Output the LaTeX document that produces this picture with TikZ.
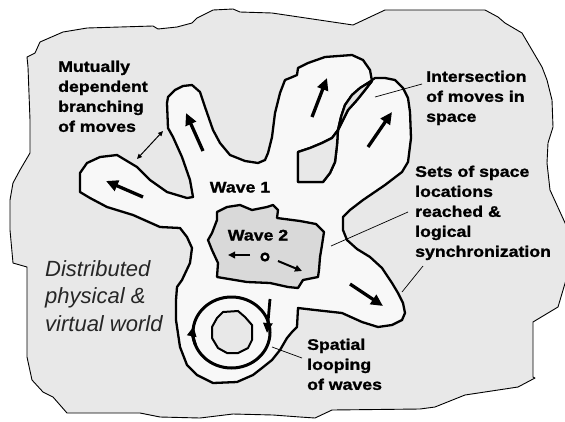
\documentclass[tikz,border=0pt]{standalone}
\usepackage{fontspec}
\usepackage{tikz}
\usetikzlibrary{arrows.meta}
\newfontfamily\lblfont[FakeStretch=1.15,FakeBold=1.2]{Liberation Sans}
\newfontfamily\worldfont{Liberation Sans}
\definecolor{ground}{HTML}{E8E8E8}
\definecolor{waveone}{HTML}{F8F8F8}
\definecolor{wavetwo}{HTML}{D9D9D9}
\definecolor{overlap}{HTML}{E2E2E2}

\begin{document}
\begin{tikzpicture}[
  x=1pt, y=-1pt,
  world/.style={draw, line width=0.9pt, fill=ground, line join=round},
  wave/.style={draw, line width=2.3pt, line join=round},
  mv/.style={-{Triangle[length=12pt,width=11pt]}, line width=3.3pt},
  smv/.style={-{Triangle[length=7pt,width=6.5pt]}, line width=2pt},
  dbl/.style={{Triangle[length=5pt,width=4.5pt]}-{Triangle[length=5pt,width=4.5pt]}, line width=1pt},
  lead/.style={line width=0.7pt},
  lbl/.style={font={\lblfont\bfseries\fontsize{15.4}{20}\selectfont},
              align=left, inner sep=0pt, anchor=north west},
  wlbl/.style={font={\lblfont\bfseries\fontsize{15.4}{20}\selectfont},
               inner sep=0pt, anchor=base},
]
  \useasboundingbox (0,0) rectangle (565,421);
  \fill[white] (0,0) rectangle (565,421);

  \path[world] (27,57) -- (35,53) -- (40,42) -- (63,32) -- (87,28) -- (153,26) -- (158,29)
    -- (177,27) -- (192,23) -- (197,18) -- (213,10) -- (233,9) -- (240,12) -- (272,13)
    -- (353,25) -- (385,10) -- (485,10) -- (498,17) -- (505,23) -- (522,33) -- (532,50)
    -- (542,67) -- (547,80) -- (552,100) -- (553,127) -- (548,143) -- (547,163) -- (550,190)
    -- (566,225) -- (572,250) -- (566,280) -- (558,307) -- (533,322) -- (533,377) -- (535,378)
    -- (518,387) -- (465,395) -- (435,407) -- (420,409) -- (332,410) -- (315,418) -- (300,417)
    -- (273,415) -- (233,414) -- (200,418) -- (160,417) -- (140,413) -- (100,413) -- (67,413)
    -- (53,397) -- (43,392) -- (32,380) -- (27,357) -- (27,267) -- (13,263) -- (10,230)
    -- (10,200) -- (13,183) -- (20,170) -- (30,153) -- (30,120) -- (28,67) -- cycle;

  \path[wave, fill=waveone] (193,197) -- (190,180) -- (182,157) -- (173,137) -- (168,128)
    -- (167,103) -- (168,97) -- (175,90) -- (183,86) -- (192,85) -- (200,92) -- (205,107)
    -- (213,130) -- (220,143) -- (230,155) -- (245,161) -- (258,163) -- (265,160) -- (268,153)
    -- (272,137) -- (275,113) -- (280,93) -- (285,80) -- (290,78) -- (297,75) -- (298,68)
    -- (308,63) -- (325,57) -- (352,55) -- (363,60) -- (370,70) -- (372,81) -- (365,90)
    -- (357,100) -- (348,110) -- (342,122) -- (338,130) -- (332,138) -- (322,143) -- (310,148)
    -- (298,152) -- (298,182) -- (323,182) -- (330,173) -- (335,162) -- (337,145) -- (338,130)
    -- (341,117) -- (345,105) -- (352,95) -- (360,88) -- (368,83) -- (375,78) -- (385,78)
    -- (395,80) -- (403,88) -- (408,98) -- (410,112) -- (411,138) -- (408,162) -- (402,172)
    -- (385,185) -- (363,200) -- (350,210) -- (343,217) -- (343,230) -- (347,240) -- (357,249)
    -- (370,257) -- (382,268) -- (392,283) -- (398,293) -- (403,303) -- (405,313) -- (402,320)
    -- (392,325) -- (378,327) -- (362,322) -- (342,313) -- (315,310) -- (298,308) -- (297,327)
    -- (292,332) -- (287,338) -- (280,350) -- (272,360) -- (262,368) -- (253,375) -- (237,382)
    -- (213,383) -- (197,375) -- (187,365) -- (180,347) -- (176,320) -- (176,300) -- (177,287)
    -- (182,280) -- (190,263) -- (192,248) -- (187,237) -- (180,228) -- (160,227) -- (133,215)
    -- (107,207) -- (90,198) -- (80,192) -- (80,173) -- (87,163) -- (100,157) -- (117,155)
    -- (137,167) -- (150,180) -- (167,192) -- (187,198) -- cycle;
  \path[wave, fill=overlap] (372,81) -- (365,90) -- (357,100) -- (348,110) -- (342,122)
    -- (338,130) -- (341,117) -- (345,105) -- (352,95) -- (360,88) -- (368,83) -- cycle;
  \path[wave, fill=ground] (338,130) -- (332,138) -- (322,143) -- (310,148) -- (298,152)
    -- (298,182) -- (323,182) -- (330,173) -- (335,162) -- (337,145) -- cycle;

  \path[wave, fill=wavetwo] (217,212) -- (227,207) -- (240,205) -- (252,210) -- (267,207)
    -- (273,205) -- (278,210) -- (277,218) -- (300,221) -- (316,224) -- (324,232) -- (322,245)
    -- (320,257) -- (319,270) -- (318,277) -- (303,280) -- (298,288) -- (288,287) -- (270,283)
    -- (247,282) -- (217,277) -- (218,263) -- (212,250) -- (208,240) -- (212,233) -- (217,220)
    -- cycle;

  \path[draw, line width=2pt, fill=ground] (223,312) -- (238,311) -- (245,317) -- (252,325)
    -- (252,340) -- (248,348) -- (238,353) -- (227,353) -- (218,348) -- (212,338)
    -- (212,327) -- (217,318) -- cycle;
  \coordinate (loopc) at (231.5,332.5);
  \draw[line width=3pt] (loopc) ellipse[x radius=38.5pt, y radius=35.5pt];
  \draw[-{Triangle[length=10pt,width=9pt]}, line width=3pt] (loopc) ++(200:38.5pt and 35.5pt)
    arc[start angle=200, end angle=170, x radius=38.5pt, y radius=35.5pt];
  \draw[-{Triangle[length=10pt,width=9pt]}, line width=2.8pt] (270,299) -- (267,333);

  \draw[mv] (203,151) -- (186,113);
  \draw[mv] (312,117) -- (327,78);
  \draw[mv] (368,147) -- (392,112);
  \draw[mv] (143,197) -- (106,181);
  \draw[mv] (350,284) -- (383,306);
  \draw[smv] (250,255) -- (228,255);
  \draw[smv] (278,261) -- (302,271);
  \draw[line width=2.4pt, fill=white] (265,257) circle[radius=3.4pt];
  \draw[dbl] (137,159) -- (163,131);

  \node[wlbl] (wone) at (240,192.5) {Wave 1};
  \node[wlbl] (wtwo) at (258,240.5) {Wave 2};
  \node[lbl] (mutual) at (58,60.5) {Mutually\\dependent\\branching\\of moves};
  \node[lbl] (inter) at (426,70.5) {Intersection\\of moves in\\space};
  \node[lbl] (sets) at (415,165.5) {Sets of space\\locations\\reached \&\\logical\\synchronization};
  \node[lbl] (spatial) at (307,338.5) {Spatial\\looping\\of waves};
  \node[anchor=north west, inner sep=0pt, align=left, text=black!85,
        font={\worldfont\itshape\fontsize{22}{27.5}\selectfont}] (world) at (45,260)
        {Distributed\\physical \&\\virtual world};

  \coordinate (interA) at (375,97);
  \coordinate (interB) at (422,84);
  \coordinate (setsA) at (331,246);
  \coordinate (setsB) at (408,212);
  \coordinate (setsC) at (402,292);
  \coordinate (setsD) at (423,266);
  \coordinate (spatA) at (272,347);
  \coordinate (spatB) at (302,358);
  \draw[lead] (interA) -- (interB);
  \draw[lead] (setsA) -- (setsB);
  \draw[lead] (setsC) -- (setsD);
  \draw[lead] (spatA) -- (spatB);
\end{tikzpicture}
\end{document}
